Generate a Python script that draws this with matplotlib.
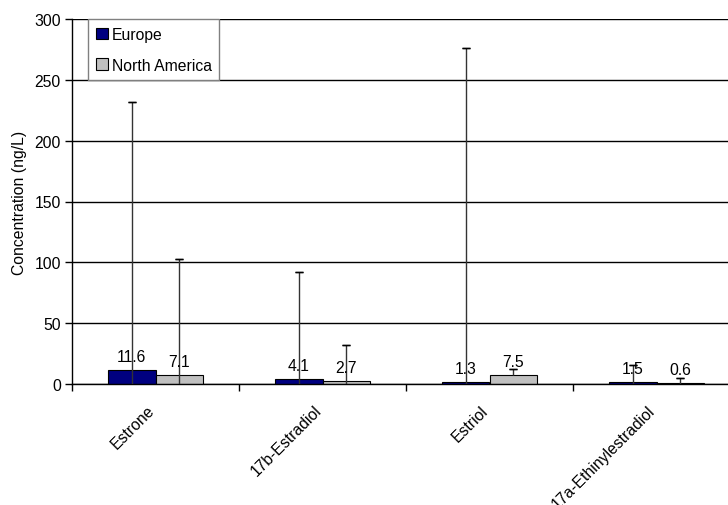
import matplotlib
matplotlib.use("Agg")
import matplotlib.pyplot as plt
from matplotlib.patches import Patch
import numpy as np

categories = ["Estrone", "17b-Estradiol", "Estriol", "17a-Ethinylestradiol"]
europe = [11.6, 4.1, 1.3, 1.5]
north_america = [7.1, 2.7, 7.5, 0.6]
europe_high = [232, 92, 276, 16]
europe_low = [0, 0, 0, 0]
na_high = [103, 32, 12, 5]
na_low = [0, 0, 7.5, 0]
yticks = [0, 50, 100, 150, 200, 250, 300]

plt.rcParams['font.family'] = ['Liberation Sans', 'DejaVu Sans']
FS = 11.3

W, H = 728, 506
fig = plt.figure(figsize=(W / 100, H / 100), dpi=100)
left, right, top, bottom = 72, 740, 20, 385
ax = fig.add_axes([left / W, 1 - bottom / H, (right - left) / W, (bottom - top) / H])

x = np.arange(len(categories))
bw = 0.285
eu = np.array(europe)
na = np.array(north_america)

ax.set_axisbelow(True)
ax.yaxis.grid(True, color='black', lw=1.0)

ax.bar(x - bw / 2, eu, bw, color='#000080', edgecolor='black', lw=0.8, zorder=2)
ax.bar(x + bw / 2, na, bw, color='#C0C0C0', edgecolor='black', lw=0.8, zorder=2)

for xs, vals, lo, hi in [(x - bw / 2, eu, europe_low, europe_high),
                         (x + bw / 2, na, na_low, na_high)]:
    lo = np.array(lo, float)
    hi = np.array(hi, float)
    ax.errorbar(xs, vals, yerr=[vals - lo, hi - vals], fmt='none', ecolor='#333333',
                elinewidth=1.0, capsize=0, zorder=3)
    ax.errorbar(xs, hi, yerr=[np.zeros_like(hi), np.zeros_like(hi)], fmt='none',
                ecolor='black', elinewidth=1.0, capsize=3, capthick=1.0, zorder=3)

for xs, vals in [(x - bw / 2, eu), (x + bw / 2, na)]:
    for xi, v in zip(xs, vals):
        ax.annotate(f"{v:.1f}", (xi, v), xytext=(0, 6), textcoords='offset pixels',
                    ha='center', va='bottom', fontsize=FS, zorder=4)

ax.set_xlim(-0.5, len(categories) - 0.5)
ax.set_ylim(0, 300)
ax.set_yticks(yticks)
ax.set_yticklabels([str(t) for t in yticks], fontsize=FS)
ax.tick_params(axis='y', direction='out', length=5, width=1, pad=3)

ax.set_xticks(np.arange(len(categories) + 1) - 0.5)
ax.set_xticklabels([])
ax.tick_params(axis='x', direction='out', length=5, width=1)
for xi, lab in zip(x, categories):
    ax.annotate(lab, (xi, 0), xytext=(-9, -18), textcoords='offset pixels',
                rotation=45, ha='right', va='top', rotation_mode='anchor',
                fontsize=FS, annotation_clip=False)

for s in ['top', 'right']:
    ax.spines[s].set_visible(False)
ax.spines['left'].set_linewidth(1)
ax.spines['bottom'].set_linewidth(1)

ax.set_ylabel("Concentration (ng/L)", fontsize=FS)
ax.yaxis.set_label_coords((27 - left) / (right - left), 0.5)

handles = [Patch(facecolor='#000080', edgecolor='black', lw=0.8, label='Europe'),
           Patch(facecolor='#C0C0C0', edgecolor='black', lw=0.8, label='North America')]
leg = ax.legend(handles=handles, loc='upper left',
                bbox_to_anchor=((88 - left) / (right - left), 1.0),
                fontsize=FS, frameon=True, fancybox=False, framealpha=1,
                edgecolor='#808080', handlelength=0.75, handleheight=0.75,
                handletextpad=0.25, borderpad=0.5, labelspacing=1.0,
                borderaxespad=0)
leg.get_frame().set_linewidth(1)

fig.savefig("out.png", dpi=100)
